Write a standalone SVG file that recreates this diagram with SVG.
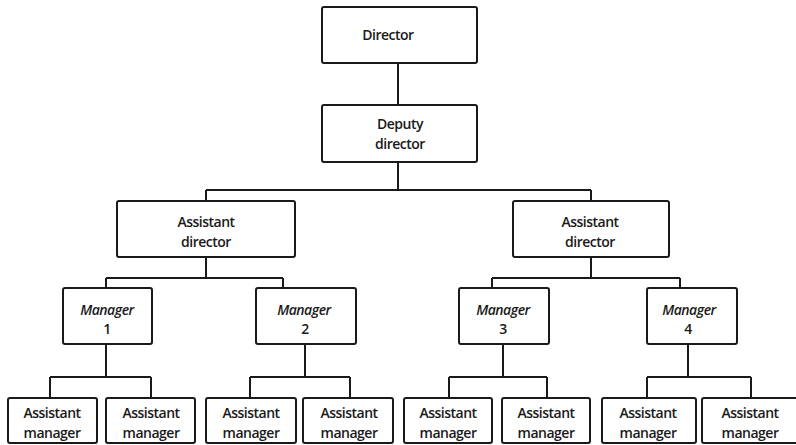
<svg xmlns="http://www.w3.org/2000/svg" width="796" height="445" viewBox="0 0 796 445">
  <style>
    .box { fill: #fff; stroke: #1a1a1a; stroke-width: 2; }
    .wire { fill: none; stroke: #1a1a1a; stroke-width: 2; }
    text { font-family: "Open Sans", "Noto Sans", sans-serif; font-size: 14px; font-weight: 600; fill: #1a1a1a; text-anchor: middle; letter-spacing: -0.5px; }
    .it { font-style: italic; }
  </style>
  <rect width="796" height="445" fill="#fff"/>

  <g id="connectors">
    <path class="wire" d="M398 63 V105"/>
    <path class="wire" d="M398 162 V190"/>
    <path class="wire" d="M206 190 H591 M206 190 V201 M591 190 V201"/>
    <path class="wire" d="M206 257 V278 M106 278 H283 M106 278 V288 M283 278 V288"/>
    <path class="wire" d="M591 257 V278 M492 278 H680 M492 278 V288 M680 278 V288"/>
    <path class="wire" d="M106 344 V377 M50 377 H151 M50 377 V398 M151 377 V398"/>
    <path class="wire" d="M305 344 V377 M250 377 H350 M250 377 V398 M350 377 V398"/>
    <path class="wire" d="M503 344 V377 M449 377 H547 M449 377 V398 M547 377 V398"/>
    <path class="wire" d="M688 344 V377 M647 377 H751 M647 377 V398 M751 377 V398"/>
  </g>

  <g id="director">
    <rect class="box" x="322" y="7" width="155" height="56" rx="2"/>
    <text x="388" y="40">Director</text>
  </g>
  <g id="deputy-director">
    <rect class="box" x="322" y="105" width="155" height="57" rx="2"/>
    <text x="400" y="129">Deputy</text>
    <text x="400" y="149">director</text>
  </g>

  <g id="assistant-director-1">
    <rect class="box" x="117" y="201" width="178" height="56" rx="2"/>
    <text x="206" y="227">Assistant</text>
    <text x="206" y="247">director</text>
  </g>
  <g id="assistant-director-2">
    <rect class="box" x="513" y="201" width="156" height="56" rx="2"/>
    <text x="590" y="227">Assistant</text>
    <text x="590" y="247">director</text>
  </g>

  <g id="manager-1">
    <rect class="box" x="63" y="288" width="89" height="56" rx="2"/>
    <text class="it" x="107" y="315">Manager</text>
    <text x="107" y="334">1</text>
  </g>
  <g id="manager-2">
    <rect class="box" x="256" y="288" width="100" height="56" rx="2"/>
    <text class="it" x="304" y="315">Manager</text>
    <text x="305" y="334">2</text>
  </g>
  <g id="manager-3">
    <rect class="box" x="459" y="288" width="90" height="56" rx="2"/>
    <text class="it" x="503" y="315">Manager</text>
    <text x="503" y="334">3</text>
  </g>
  <g id="manager-4">
    <rect class="box" x="647" y="288" width="90" height="56" rx="2"/>
    <text class="it" x="689" y="315">Manager</text>
    <text x="688" y="334">4</text>
  </g>

  <g id="assistant-manager-1">
    <rect class="box" x="8" y="398" width="89" height="45" rx="2"/>
    <text x="52" y="418">Assistant</text>
    <text x="52" y="438">manager</text>
  </g>
  <g id="assistant-manager-2">
    <rect class="box" x="106" y="398" width="89" height="45" rx="2"/>
    <text x="151" y="418">Assistant</text>
    <text x="151" y="438">manager</text>
  </g>
  <g id="assistant-manager-3">
    <rect class="box" x="206" y="398" width="90" height="45" rx="2"/>
    <text x="251" y="418">Assistant</text>
    <text x="251" y="438">manager</text>
  </g>
  <g id="assistant-manager-4">
    <rect class="box" x="303" y="398" width="90" height="45" rx="2"/>
    <text x="349" y="418">Assistant</text>
    <text x="349" y="438">manager</text>
  </g>
  <g id="assistant-manager-5">
    <rect class="box" x="404" y="398" width="88" height="45" rx="2"/>
    <text x="448" y="418">Assistant</text>
    <text x="448" y="438">manager</text>
  </g>
  <g id="assistant-manager-6">
    <rect class="box" x="502" y="398" width="88" height="45" rx="2"/>
    <text x="546" y="418">Assistant</text>
    <text x="546" y="438">manager</text>
  </g>
  <g id="assistant-manager-7">
    <rect class="box" x="602" y="398" width="94" height="45" rx="2"/>
    <text x="648" y="418">Assistant</text>
    <text x="648" y="438">manager</text>
  </g>
  <g id="assistant-manager-8">
    <rect class="box" x="702" y="398" width="100" height="45" rx="2"/>
    <text x="750" y="418">Assistant</text>
    <text x="750" y="438">manager</text>
  </g>
</svg>
